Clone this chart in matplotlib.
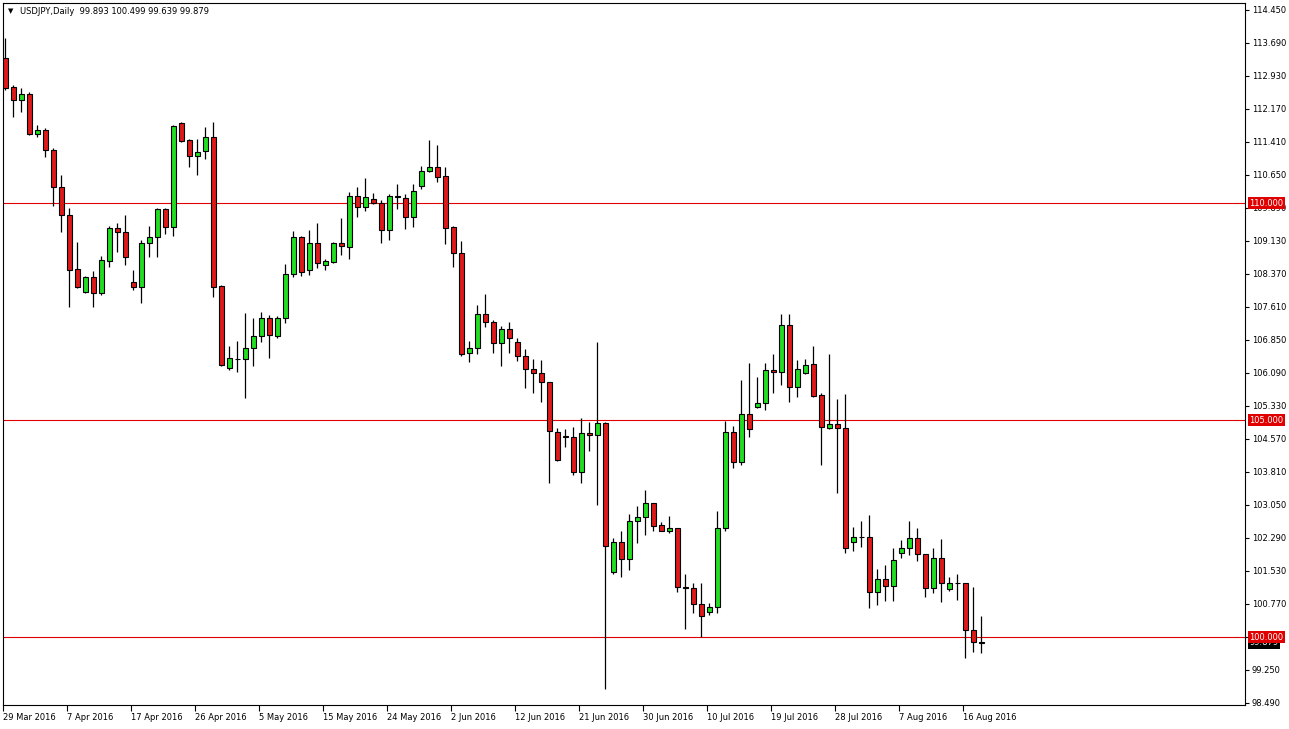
import numpy as np
import matplotlib
matplotlib.use("Agg")
import matplotlib.pyplot as plt
from matplotlib.transforms import blended_transform_factory

# USDJPY daily bars (broker shows Sunday bars too)
opens = [
    113.35, 112.67, 112.38, 112.52, 111.59, 111.69, 111.23, 110.37, 109.73, 108.48,
    107.96, 108.29, 107.94, 108.68, 109.42, 109.33, 108.18, 108.06, 109.08, 109.22,
    109.87, 109.45, 111.84, 111.46, 111.09, 111.21, 111.52, 108.10, 106.21, 106.42,
    106.41, 106.66, 106.94, 107.35, 106.94, 107.35, 108.37, 109.22, 108.46, 109.08,
    108.58, 108.65, 109.08, 109.00, 110.17, 109.91, 110.09, 110.01, 109.38, 110.16,
    110.11, 109.69, 110.40, 110.75, 110.83, 110.63, 109.46, 108.85, 106.54, 106.66,
    107.45, 107.27, 106.77, 107.10, 106.80, 106.48, 106.18, 106.08, 105.88, 104.74,
    104.63, 104.61, 103.82, 104.70, 104.65, 104.93, 101.51, 102.19, 101.80, 102.69,
    102.78, 103.09, 102.59, 102.46, 102.51, 101.15, 101.14, 100.76, 100.58, 100.69,
    102.51, 104.72, 104.03, 105.14, 105.31, 105.39, 106.16, 106.11, 107.20, 105.77,
    106.10, 106.30, 105.58, 104.83, 104.91, 104.82, 102.19, 102.32, 102.31, 101.05,
    101.34, 101.19, 101.95, 102.05, 102.28, 101.91, 101.13, 101.82, 101.11, 101.26,
    101.25, 100.17, 99.893,
]
highs = [
    113.81, 112.72, 112.65, 112.55, 111.80, 111.73, 111.27, 110.65, 109.89, 109.11,
    108.32, 108.45, 108.78, 109.48, 109.54, 109.73, 108.46, 109.15, 109.48, 109.88,
    109.89, 111.80, 111.86, 111.47, 111.47, 111.75, 111.88, 108.12, 106.71, 106.83,
    107.47, 107.35, 107.49, 107.43, 107.40, 108.60, 109.36, 109.25, 109.38, 109.55,
    108.72, 109.11, 109.65, 110.25, 110.37, 110.57, 110.23, 110.07, 110.21, 110.44,
    110.21, 110.44, 110.86, 111.46, 111.34, 110.83, 109.47, 109.13, 106.83, 107.66,
    107.91, 107.31, 107.17, 107.27, 106.90, 106.64, 106.41, 106.39, 105.89, 104.82,
    104.79, 104.84, 105.05, 104.97, 106.81, 104.95, 102.30, 102.46, 102.84, 103.03,
    103.40, 103.10, 102.65, 102.80, 102.52, 101.46, 101.25, 101.26, 100.79, 102.90,
    104.99, 104.87, 105.93, 106.33, 105.99, 106.31, 106.53, 107.45, 107.45, 106.39,
    106.41, 106.71, 105.64, 106.53, 105.48, 105.61, 102.54, 102.68, 102.82, 101.57,
    101.67, 102.05, 102.24, 102.67, 102.51, 101.92, 102.05, 102.26, 101.40, 101.46,
    101.26, 101.15, 100.499,
]
lows = [
    112.61, 111.99, 112.09, 111.57, 111.53, 111.07, 109.94, 109.34, 107.62, 108.05,
    107.93, 107.62, 107.89, 108.52, 108.88, 108.58, 107.99, 107.71, 108.77, 108.75,
    109.29, 109.25, 111.42, 110.83, 110.65, 111.01, 107.85, 106.25, 106.16, 106.12,
    105.51, 106.24, 106.81, 106.43, 106.89, 107.23, 108.29, 108.33, 108.35, 108.50,
    108.46, 108.62, 108.81, 108.71, 109.69, 109.83, 109.99, 109.09, 109.15, 109.86,
    109.40, 109.46, 110.33, 110.71, 110.48, 109.05, 108.52, 106.49, 106.35, 106.52,
    107.14, 106.56, 106.24, 106.54, 106.37, 105.74, 105.62, 105.41, 103.55, 104.06,
    104.39, 103.74, 103.56, 104.30, 103.05, 98.81, 101.47, 101.39, 101.55, 102.17,
    102.36, 102.44, 102.44, 102.41, 101.04, 100.19, 100.57, 100.02, 100.52, 100.56,
    102.46, 103.90, 103.96, 104.61, 105.28, 105.24, 105.64, 105.81, 105.41, 105.54,
    106.07, 105.54, 103.97, 104.81, 103.33, 101.95, 102.00, 102.09, 100.67, 100.75,
    100.84, 100.84, 101.83, 101.90, 101.77, 100.94, 101.02, 100.82, 101.08, 100.85,
    99.52, 99.67, 99.639,
]
closes = [
    112.65, 112.38, 112.52, 111.59, 111.69, 111.23, 110.37, 109.73, 108.46, 108.07,
    108.29, 107.94, 108.69, 109.42, 109.33, 108.75, 108.06, 109.08, 109.22, 109.87,
    109.45, 111.78, 111.44, 111.09, 111.19, 111.52, 108.08, 106.27, 106.43, 106.41,
    106.66, 106.94, 107.35, 106.96, 107.35, 108.37, 109.22, 108.41, 109.08, 108.62,
    108.67, 109.08, 109.02, 110.17, 109.91, 110.14, 110.01, 109.38, 110.17, 110.15,
    109.69, 110.28, 110.75, 110.83, 110.61, 109.44, 108.85, 106.52, 106.66, 107.45,
    107.27, 106.77, 107.10, 106.89, 106.47, 106.18, 106.08, 105.88, 104.75, 104.09,
    104.62, 103.82, 104.70, 104.66, 104.93, 102.11, 102.19, 101.80, 102.69, 102.77,
    103.09, 102.57, 102.46, 102.51, 101.15, 101.14, 100.76, 100.50, 100.69, 102.51,
    104.72, 104.03, 105.14, 104.79, 105.39, 106.16, 106.11, 107.20, 105.77, 106.18,
    106.27, 105.56, 104.84, 104.91, 104.82, 102.05, 102.32, 102.31, 101.05, 101.34,
    101.19, 101.78, 102.05, 102.28, 101.91, 101.13, 101.82, 101.26, 101.25, 101.25,
    100.17, 99.89, 99.879,
]

date_labels = [
    "29 Mar 2016", "7 Apr 2016", "17 Apr 2016", "26 Apr 2016", "5 May 2016",
    "15 May 2016", "24 May 2016", "2 Jun 2016", "12 Jun 2016", "21 Jun 2016",
    "30 Jun 2016", "10 Jul 2016", "19 Jul 2016", "28 Jul 2016", "7 Aug 2016",
    "16 Aug 2016",
]
label_step = 8
levels = [110.0, 105.0, 100.0]
price_ticks = [98.49 + 0.76 * k for k in range(22)]
title = "USDJPY,Daily  99.893 100.499 99.639 99.879"

UP = "#22dd22"
DOWN = "#dd1a1a"
LEVEL = "#e00000"

o = np.array(opens)
h = np.array(highs)
l = np.array(lows)
c = np.array(closes)
x = np.arange(len(o))

fig = plt.figure(figsize=(12.89, 7.29), dpi=100)
ax = fig.add_axes([3 / 1289, 24 / 729, 1242 / 1289, 702 / 729])

# wicks, then bodies on top
ax.vlines(x, l, h, color="black", lw=0.9, zorder=2)
colors = np.where(c > o, UP, DOWN)
ax.bar(x, np.abs(c - o), bottom=np.minimum(o, c), width=0.6,
       color=colors, edgecolor="black", linewidth=0.8, zorder=3)

for lv in levels:
    ax.axhline(lv, color=LEVEL, lw=0.8, zorder=1)

ax.set_xlim(-0.31, 154.94)
ax.set_ylim(98.443, 114.611)

# price scale on the right; the 100.010 label sits under the level tag
ax.yaxis.tick_right()
ax.set_yticks(price_ticks)
tick_text = []
for t in price_ticks:
    hidden = any(abs(t - lv) < 0.05 for lv in levels)
    tick_text.append("" if hidden else f"{t:.3f}")
ax.set_yticklabels(tick_text)
ax.tick_params(axis="y", length=3, width=0.8, pad=2, labelsize=6)

ticks_x = np.arange(len(date_labels)) * label_step - 0.3
ax.set_xticks(ticks_x)
ax.set_xticklabels(date_labels, ha="left")
ax.tick_params(axis="x", length=4, width=0.8, pad=2, labelsize=6)

for s in ax.spines.values():
    s.set_linewidth(0.8)
    s.set_color("black")

# level tags and current price tag on the price scale
tr = blended_transform_factory(ax.transAxes, ax.transData)
for lv in levels:
    ax.text(1.0035, lv, f"{lv:.3f}", transform=tr, ha="left", va="center",
            fontsize=6, color="white", clip_on=False, zorder=6,
            bbox=dict(boxstyle="square,pad=0.18", fc=LEVEL, ec="none"))
ax.text(1.0035, closes[-1], f"{closes[-1]:.3f}", transform=tr, ha="left",
        va="center", fontsize=6, color="white", clip_on=False, zorder=5,
        bbox=dict(boxstyle="square,pad=0.18", fc="black", ec="none"))

ax.text(0.004, 0.992, "\u25bc", transform=ax.transAxes, ha="left", va="top",
        fontsize=5)
ax.text(0.0135, 0.994, title, transform=ax.transAxes, ha="left", va="top",
        fontsize=6)

fig.savefig("out.png", dpi=100)
